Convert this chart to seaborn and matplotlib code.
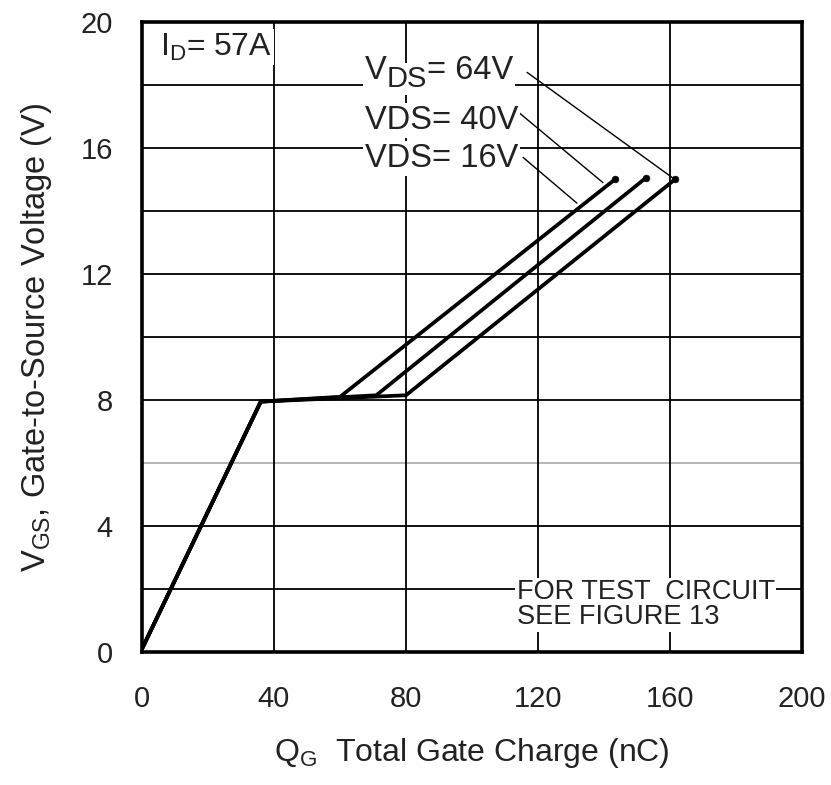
import matplotlib
matplotlib.use("Agg")
import matplotlib.pyplot as plt
import seaborn as sns
import pandas as pd
import numpy as np

# ---- data ----
series_labels = ["VDS= 16V", "VDS= 40V", "VDS= 64V"]
qg_16 = [0, 36, 60, 143.3]
vgs_16 = [0.1, 7.95, 8.1, 15.0]
qg_40 = [0, 36, 71, 152.7]
vgs_40 = [0.1, 7.95, 8.15, 15.05]
qg_64 = [0, 36, 80, 161.5]
vgs_64 = [0.1, 7.95, 8.15, 15.0]

x_ticks = [0, 40, 80, 120, 160, 200]
y_ticks = [0, 4, 8, 12, 16, 20]
y_minor = [2, 6, 10, 14, 18]

sns.set_theme(style="white")
plt.rcParams['font.family'] = ['Liberation Sans', 'DejaVu Sans']
plt.rcParams['mathtext.default'] = 'regular'

df = pd.concat([
    pd.DataFrame({"QG": qg_16, "VGS": vgs_16, "VDS": series_labels[0]}),
    pd.DataFrame({"QG": qg_40, "VGS": vgs_40, "VDS": series_labels[1]}),
    pd.DataFrame({"QG": qg_64, "VGS": vgs_64, "VDS": series_labels[2]}),
], ignore_index=True)

fig = plt.figure(figsize=(8.31, 7.85), dpi=100)
ax = fig.add_axes([0.1709, 0.1694, 0.965 - 0.1709, 0.972 - 0.1694])

# grid
for yv in y_ticks[1:-1] + y_minor:
    col = "#b0b0b0" if yv == 6 else "black"
    ax.axhline(yv, color=col, lw=1.3, zorder=1)
for xv in x_ticks[1:-1]:
    ax.axvline(xv, color="black", lw=1.3, zorder=1)

sns.lineplot(data=df, x="QG", y="VGS", units="VDS", estimator=None, sort=False,
             color="black", lw=2.7, ax=ax, zorder=3, legend=False)
ends = df.groupby("VDS").tail(1)
sns.scatterplot(data=ends, x="QG", y="VGS", color="black", s=24, ax=ax, zorder=4,
                legend=False, edgecolor="black")

ax.set_xlim(0, 200)
ax.set_ylim(0, 20)
ax.set_xticks(x_ticks)
ax.set_yticks(y_ticks)
ax.tick_params(axis="both", direction="in", labelsize=21, colors="#222222")
ax.tick_params(axis="y", length=20, width=2.2, pad=21, colors="black", labelcolor="#222222")
ax.tick_params(axis="x", length=0, pad=24)
for s in ax.spines.values():
    s.set_linewidth(2.6)
    s.set_color("black")
    s.set_zorder(5)

ax.set_xlabel("Q$_G$  Total Gate Charge (nC)", fontsize=23, labelpad=16, color="#222222")
ax.set_ylabel("V$_{GS}$, Gate-to-Source Voltage (V)", fontsize=23.5, labelpad=19,
              color="#222222")

box = dict(facecolor="white", edgecolor="none", pad=1.5)
ax.text(5.5, 19.2, "I$_D$= 57A", fontsize=23, va="center", ha="left", bbox=box, zorder=6,
        color="#222222")

# V_DS = 64V label built from pieces (large subscript)
tv = ax.text(67.5, 18.45, "V", fontsize=23.5, va="center", ha="left", bbox=box, zorder=6,
             color="#222222")
tds = ax.annotate("DS", xy=(1.0, 0.5), xycoords=tv, xytext=(0, -6),
                  textcoords="offset points", fontsize=21, va="center", ha="left",
                  bbox=box, zorder=6, color="#222222")
ax.annotate("= 64V", xy=(1.0, 0.5), xycoords=(tds, tv), xytext=(0, 0),
            textcoords="offset points", fontsize=23.5, va="center", ha="left",
            bbox=box, zorder=6, color="#222222")

label_text = ["VDS= 40V", "VDS= 16V"]
label_y = [16.88, 15.68]
for t, yy in zip(label_text, label_y):
    ax.text(67.5, yy, t, fontsize=23.5, va="center", ha="left", bbox=box, zorder=6,
            color="#222222")

ptr_start = [(116.7, 18.4), (114.5, 17.1), (115.5, 15.7)]
ptr_end = [(161.5, 15.0), (139.7, 14.9), (131.8, 14.25)]
for s0, s1 in zip(ptr_start, ptr_end):
    ax.plot([s0[0], s1[0]], [s0[1], s1[1]], color="black", lw=1.0, zorder=5)

ax.text(113.5, 1.5, "FOR TEST  CIRCUIT\nSEE FIGURE 13", fontsize=19.5, va="center",
        ha="left", linespacing=0.95, bbox=dict(facecolor="white", edgecolor="none", pad=1),
        zorder=6, color="#222222")

fig.savefig("out.png", dpi=100)
